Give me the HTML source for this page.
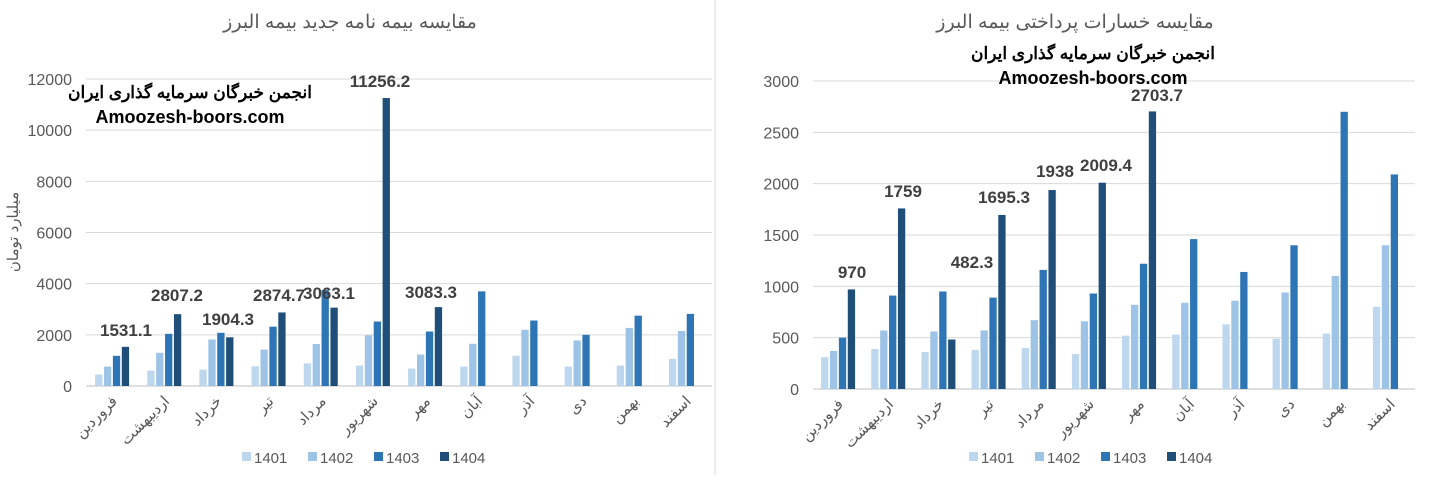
<!DOCTYPE html>
<html><head><meta charset="utf-8"><style>
body{margin:0;background:#fff;}
svg text{font-family:"Liberation Sans","Noto Sans CJK SC",sans-serif;}
</style></head><body>
<svg id="s" width="1435" height="475" xmlns="http://www.w3.org/2000/svg"></svg>
<script>
const s=document.getElementById('s');
let h='<rect width="1435" height="475" fill="#fff"/>';
h+='<line x1="715" y1="0" x2="715" y2="475" stroke="#d9d9d9"/>';
const cols=['#bdd7ee','#9dc3e6','#2e75b6','#1f4e79'];
const months=['فروردین','اردیبهشت','خرداد','تیر','مرداد','شهریور','مهر','آبان','آذر','دی','بهمن','اسفند'];
function chart(o){
  const {x0,x1,y0,yTop,max,step,data,labels,title,tx}=o;
  h+=`<text x="${tx}" y="28" font-size="19" fill="#595959" text-anchor="middle">${title}</text>`;
  for(let v=0;v<=max;v+=step){
    const y=y0-(y0-yTop)*v/max;
    h+=`<line x1="${x0}" y1="${y}" x2="${x1}" y2="${y}" stroke="${v?'#d9d9d9':'#bfbfbf'}"/>`;
    h+=`<text x="${x0-14}" y="${y+6}" font-size="16" fill="#595959" text-anchor="end">${v}</text>`;
  }
  const cw=(x1-x0)/12,bw=7.3,gap=1.6;
  for(let i=0;i<12;i++){
    const c=x0+cw*(i+0.5);
    for(let k=0;k<4;k++){
      const v=data[k][i]; if(v==null)continue;
      const bx=c-(4*bw+3*gap)/2+k*(bw+gap);
      const by=y0-(y0-yTop)*v/max;
      h+=`<rect x="${bx}" y="${by}" width="${bw}" height="${y0-by}" fill="${cols[k]}"/>`;
    }
    h+=`<text transform="translate(${c+6},${y0+16}) rotate(-45)" font-size="15" fill="#595959" text-anchor="end">${months[i]}</text>`;
  }
  labels.forEach(l=>{h+=`<text x="${l[0]}" y="${l[1]}" font-size="17" font-weight="bold" fill="#404040" text-anchor="middle">${l[2]}</text>`;});
  const lx=o.lx;
  ['1401','1402','1403','1404'].forEach((n,k)=>{
    const x=lx+k*66;
    h+=`<rect x="${x}" y="452" width="9" height="9" fill="${cols[k]}"/><text x="${x+12}" y="463" font-size="15" fill="#595959">${n}</text>`;
  });
}
chart({x0:86,x1:712,y0:386,yTop:79,max:12000,step:2000,tx:350,title:'مقایسه بیمه نامه جدید بیمه البرز',lx:242,
data:[[450,600,640,770,880,800,680,760,1180,760,800,1060],
[760,1300,1820,1420,1640,1980,1230,1650,2200,1780,2270,2150],
[1180,2040,2080,2320,3750,2520,2130,3700,2560,2000,2750,2820],
[1531.1,2807.2,1904.3,2874.7,3063.1,11256.2,3083.3]],
labels:[[126,336,'1531.1'],[177,301,'2807.2'],[228,325,'1904.3'],[279,301,'2874.7'],[329,299,'3063.1'],[380,87,'11256.2'],[431,298,'3083.3']]});
chart({x0:813,x1:1415,y0:389,yTop:81,max:3000,step:500,tx:1075,title:'مقایسه خسارات پرداختی بیمه البرز',lx:969,
data:[[310,390,360,380,400,340,520,530,630,490,540,800],
[370,570,560,570,670,660,820,840,860,940,1100,1400],
[500,910,950,890,1160,930,1220,1460,1140,1400,2700,2090],
[970,1759,482.3,1695.3,1938,2009.4,2703.7]],
labels:[[852,278,'970'],[903,197,'1759'],[972,268,'482.3'],[1004,203,'1695.3'],[1055,177,'1938'],[1106,171,'2009.4'],[1157,101,'2703.7']]});
h+=`<text x="190" y="98" font-size="17" font-weight="bold" fill="#000" text-anchor="middle">انجمن خبرگان سرمایه گذاری ایران</text>`;
h+=`<text x="190" y="123" font-size="18" font-weight="bold" fill="#000" text-anchor="middle">Amoozesh-boors.com</text>`;
h+=`<text x="1093" y="59" font-size="17" font-weight="bold" fill="#000" text-anchor="middle">انجمن خبرگان سرمایه گذاری ایران</text>`;
h+=`<text x="1093" y="84" font-size="18" font-weight="bold" fill="#000" text-anchor="middle">Amoozesh-boors.com</text>`;
h+=`<text transform="translate(18,232) rotate(-90)" font-size="15" fill="#595959" text-anchor="middle">میلیارد تومان</text>`;
s.innerHTML=h;
</script>
</body></html>
